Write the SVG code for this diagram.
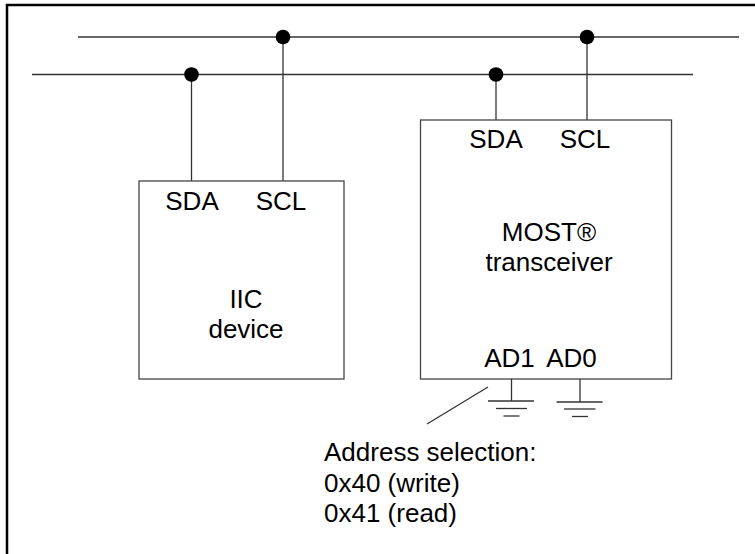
<svg xmlns="http://www.w3.org/2000/svg" width="755" height="554" viewBox="0 0 755 554">
<style>
.t{font-family:"Liberation Sans",Arial,sans-serif;font-size:26px;fill:#000}
.c{text-anchor:middle}
.w{stroke:#333;stroke-width:1.3;fill:none}
.b{fill:#fff;stroke:#444;stroke-width:1.3}
.d{fill:#000}
</style>
<rect x="0" y="0" width="755" height="554" fill="#fff"/>
<rect x="7" y="5" width="770" height="570" fill="none" stroke="#000" stroke-width="2.5"/>
<g id="connectors">
<line class="w" x1="78" y1="37" x2="739" y2="37"/>
<line class="w" x1="32" y1="74.5" x2="693" y2="74.5"/>
<line class="w" x1="191.5" y1="74.5" x2="191.5" y2="181"/>
<line class="w" x1="283" y1="37" x2="283" y2="181"/>
<line class="w" x1="496" y1="74.5" x2="496" y2="120"/>
<line class="w" x1="587" y1="37" x2="587" y2="120"/>
<circle class="d" cx="191.5" cy="74.5" r="7.3"/>
<circle class="d" cx="283" cy="37" r="7.3"/>
<circle class="d" cx="496" cy="74.5" r="7.3"/>
<circle class="d" cx="587" cy="37" r="7.3"/>
<line class="w" x1="488" y1="387" x2="427" y2="424" stroke-width="1"/>
</g>
<g id="iic">
<rect class="b" x="139" y="181" width="205" height="198"/>
<text class="t c" x="192" y="210">SDA</text>
<text class="t c" x="281" y="210">SCL</text>
<text class="t c" x="246" y="308">IIC</text>
<text class="t c" x="246" y="338">device</text>
</g>
<g id="most">
<rect class="b" x="420.5" y="120" width="251" height="259"/>
<text class="t c" x="496" y="148">SDA</text>
<text class="t c" x="585" y="148">SCL</text>
<text class="t c" x="549" y="241">MOST®</text>
<text class="t c" x="549" y="271">transceiver</text>
<text class="t c" x="509.5" y="367">AD1</text>
<text class="t c" x="571.5" y="367">AD0</text>
</g>
<g id="gnd1">
<line class="w" x1="511.5" y1="379" x2="511.5" y2="401"/>
<line class="w" x1="488" y1="401" x2="534" y2="401"/>
<line class="w" x1="496" y1="408.5" x2="527" y2="408.5"/>
<line class="w" x1="503.5" y1="416" x2="519.5" y2="416"/>
</g>
<g id="gnd0">
<line class="w" x1="580" y1="379" x2="580" y2="402"/>
<line class="w" x1="556.5" y1="402" x2="602.5" y2="402"/>
<line class="w" x1="564" y1="409" x2="595.5" y2="409"/>
<line class="w" x1="572" y1="416.5" x2="588" y2="416.5"/>
</g>
<g id="note">
<text class="t" x="324" y="461">Address selection:</text>
<text class="t" x="324" y="492">0x40 (write)</text>
<text class="t" x="324" y="522">0x41 (read)</text>
</g>
</svg>
